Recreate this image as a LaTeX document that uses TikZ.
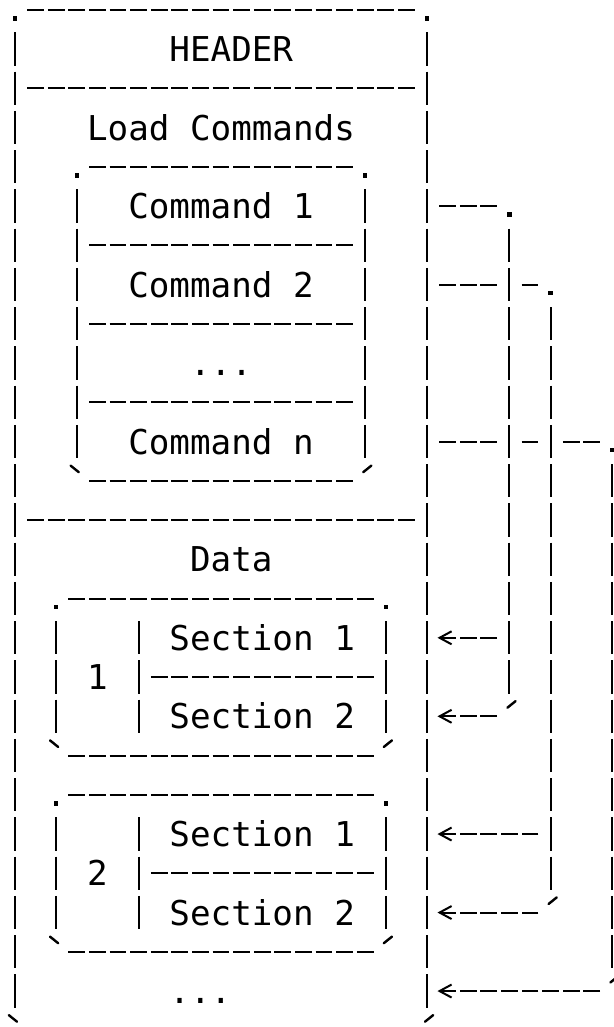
\documentclass[tikz,border=0pt]{standalone}
\usepackage{fontspec}
\setmonofont{DejaVu Sans Mono}
\usetikzlibrary{arrows.meta}

% one column = one character, one row = one line
\tikzset{
  grid cells/.style={x=10.3pt,y=19.625pt},
  txt/.style={font=\ttfamily\fontsize{17.11pt}{19.625pt}\selectfont,
    inner sep=0pt,text height=12.5pt,text depth=0pt},
  % rules run from corner to corner, the corner cells stay empty
  hrule/.style={line width=1pt,dash pattern=on 8.35pt off 1.95pt,
    shorten <=6.125pt,shorten >=6.125pt},
  vrule/.style={line width=1pt,dash pattern=on 16.6pt off 3.025pt,
    shorten <=11.325pt,shorten >=11.325pt},
  pointer/.style={-{Straight Barb[length=6pt,width=6.5pt,line width=1pt]},
    shorten >=5.25pt},
  corner dot/.pic={\fill (-1.1pt,-5.4pt) rectangle (1.1pt,-3.2pt);},
  corner left/.pic={\draw[line width=1.2pt,line cap=round] (-3.1pt,7.6pt) -- (1pt,4.3pt);},
  corner right/.pic={\draw[line width=1.2pt,line cap=round] (3.1pt,7.6pt) -- (-1pt,4.3pt);},
}

\begin{document}
\begin{tikzpicture}[grid cells]
  \useasboundingbox (-0.728,0.25) rectangle (29.03,-25.916);
  \coordinate (wall) at (20,0);

  % File frame
  \draw[hrule] (0,0) -- (20,0);
  \draw[hrule] (0,-26) -- (20,-26);
  \draw[vrule] (0,0) -- (0,-26);
  \draw[vrule] (20,0) -- (20,-26);
  \draw[hrule] (0,-2) -- (20,-2);
  \draw[hrule] (0,-13) -- (20,-13);
  \pic at (0,0) {corner dot};
  \pic at (20,0) {corner dot};
  \pic at (0,-26) {corner left};
  \pic at (20,-26) {corner right};
  \node[txt] (header) at (10.5,-1) {HEADER};
  \node[txt] (loadcmds) at (10,-3) {Load Commands};

  % Load command list
  \draw[hrule] (3,-4) -- (17,-4);
  \draw[hrule] (3,-6) -- (17,-6);
  \draw[hrule] (3,-8) -- (17,-8);
  \draw[hrule] (3,-10) -- (17,-10);
  \draw[hrule] (3,-12) -- (17,-12);
  \draw[vrule] (3,-4) -- (3,-12);
  \draw[vrule] (17,-4) -- (17,-12);
  \pic at (3,-4) {corner dot};
  \pic at (17,-4) {corner dot};
  \pic at (3,-12) {corner left};
  \pic at (17,-12) {corner right};
  \node[txt] (cmd1) at (10,-5) {Command 1};
  \node[txt] (cmd2) at (10,-7) {Command 2};
  \node[txt] (cmdmore) at (10,-9) {...};
  \node[txt] (cmdn) at (10,-11) {Command n};

  \node[txt] (data) at (10.5,-14) {Data};

  % Segment 1
  \draw[hrule] (2,-15) -- (18,-15);
  \draw[hrule] (6,-17) -- (18,-17);
  \draw[hrule] (2,-19) -- (18,-19);
  \draw[vrule] (2,-15) -- (2,-19);
  \draw[vrule] (6,-15) -- (6,-19);
  \draw[vrule] (18,-15) -- (18,-19);
  \pic at (2,-15) {corner dot};
  \pic at (18,-15) {corner dot};
  \pic at (2,-19) {corner left};
  \pic at (18,-19) {corner right};
  \node[txt] (seg1) at (4,-17) {1};
  \node[txt] (seg1sec1) at (12,-16) {Section 1};
  \node[txt] (seg1sec2) at (12,-18) {Section 2};

  % Segment 2
  \draw[hrule] (2,-20) -- (18,-20);
  \draw[hrule] (6,-22) -- (18,-22);
  \draw[hrule] (2,-24) -- (18,-24);
  \draw[vrule] (2,-20) -- (2,-24);
  \draw[vrule] (6,-20) -- (6,-24);
  \draw[vrule] (18,-20) -- (18,-24);
  \pic at (2,-20) {corner dot};
  \pic at (18,-20) {corner dot};
  \pic at (2,-24) {corner left};
  \pic at (18,-24) {corner right};
  \node[txt] (seg2) at (4,-22) {2};
  \node[txt] (seg2sec1) at (12,-21) {Section 1};
  \node[txt] (seg2sec2) at (12,-23) {Section 2};

  \node[txt] (segmore) at (9,-25) {...};

  % Command 1 -> segment 1
  \coordinate (bend1) at (24,-5);
  \draw[hrule] (cmd1 -| wall) -- (bend1);
  \draw[vrule] (bend1) -- (bend1 |- seg1sec2);
  \draw[hrule,pointer] (bend1 |- seg1sec1) -- (seg1sec1 -| wall);
  \draw[hrule,pointer] (bend1 |- seg1sec2) -- (seg1sec2 -| wall);
  \pic at (bend1) {corner dot};
  \pic at (bend1 |- seg1sec2) {corner right};

  % Command 2 -> segment 2
  \coordinate (bend2) at (26,-7);
  \draw[hrule] (cmd2 -| wall) -- (cmd2 -| bend1);
  \draw[hrule] (cmd2 -| bend1) -- (bend2);
  \draw[vrule] (bend2) -- (bend2 |- seg2sec2);
  \draw[hrule,pointer] (bend2 |- seg2sec1) -- (seg2sec1 -| wall);
  \draw[hrule,pointer] (bend2 |- seg2sec2) -- (seg2sec2 -| wall);
  \pic at (bend2) {corner dot};
  \pic at (bend2 |- seg2sec2) {corner right};

  % Command n -> remaining segments
  \coordinate (bendn) at (29,-11);
  \draw[hrule] (cmdn -| wall) -- (cmdn -| bend1);
  \draw[hrule] (cmdn -| bend1) -- (cmdn -| bend2);
  \draw[hrule] (cmdn -| bend2) -- (bendn);
  \draw[vrule] (bendn) -- (bendn |- segmore);
  \draw[hrule,pointer] (bendn |- segmore) -- (segmore -| wall);
  \pic at (bendn) {corner dot};
  \pic at (bendn |- segmore) {corner right};
\end{tikzpicture}
\end{document}
